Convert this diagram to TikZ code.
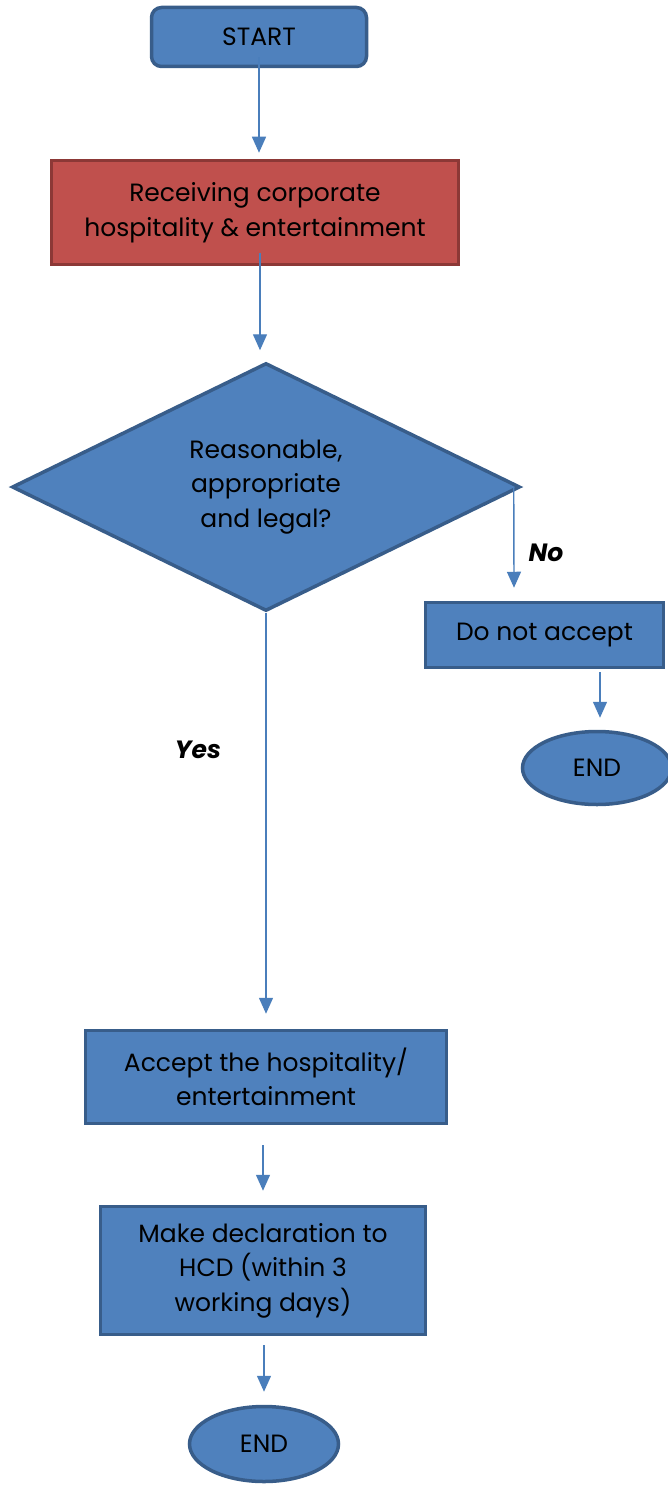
\documentclass[tikz,border=0pt]{standalone}
\usepackage{fontspec}
\setmainfont{Poppins}
\usetikzlibrary{shapes.geometric,arrows.meta}
\definecolor{bfill}{HTML}{4F81BD}
\definecolor{bline}{HTML}{385D8A}
\definecolor{rfill}{HTML}{C0504D}
\definecolor{rline}{HTML}{8C3836}
\definecolor{arrc}{HTML}{4A7EBB}
\tikzset{
  box/.style={draw=bline,fill=bfill,line width=3.5pt,inner sep=0pt,align=center,
    font=\fontsize{25}{34.5}\selectfont},
  redbox/.style={box,draw=rline,fill=rfill},
  endell/.style={box,ellipse},
  arr/.style={draw=arrc,line width=1.4pt,-{Triangle[length=16pt,width=14pt]}},
  lbl/.style={font=\fontsize{25}{30}\selectfont\bfseries\itshape}
}
\begin{document}
\begin{tikzpicture}[x=1pt,y=-1pt]
\useasboundingbox (0,0) rectangle (667,1485);
\node[box,rounded corners=10pt,minimum width=215pt,minimum height=59pt] (start) at (259,37) {START};
\node[redbox,minimum width=407pt,minimum height=104pt] (recv) at (255,212.5) {Receiving corporate\\hospitality \& entertainment};
\node[box,diamond,minimum width=508pt,minimum height=248pt,aspect=2.04] (dec) at (266,487) {Reasonable,\\appropriate\\and legal?};
\node[box,minimum width=238pt,minimum height=65pt] (no) at (544.5,635) {Do not accept};
\node[endell,minimum width=149pt,minimum height=73pt] (end1) at (597,768) {END};
\node[box,minimum width=361pt,minimum height=93pt] (acc) at (266,1077) {Accept the hospitality/\\entertainment};
\node[box,minimum width=325pt,minimum height=128pt] (decl) at (263,1270.5) {Make declaration to\\HCD (within 3\\working days)};
\node[endell,minimum width=149pt,minimum height=75pt] (end2) at (264,1444) {END};
\node[lbl] (nolbl) at (546,553) {No};
\node[lbl] (yeslbl) at (198,750) {Yes};
\draw[arr] ([yshift=11pt]start.south) -- ([yshift=6pt]recv.north -| start.south);
\draw[arr] ([xshift=5pt,yshift=13pt]recv.south) -- ([xshift=-6pt,yshift=11pt]dec.north);
\draw[arr] ([xshift=-8pt]dec.east) -- ([xshift=-30.5pt,yshift=13pt]no.north);
\draw[arr] ([xshift=55.5pt,yshift=-3pt]no.south) -- ([xshift=3pt,yshift=12pt]end1.north);
\draw[arr] (dec.south) -- ([yshift=15pt]acc.north);
\draw[arr] ([xshift=-3pt,yshift=-20pt]acc.south) -- ([yshift=14pt]decl.north);
\draw[arr] ([xshift=1pt,yshift=-9pt]decl.south) -- ([yshift=13pt]end2.north);
\end{tikzpicture}
\end{document}
